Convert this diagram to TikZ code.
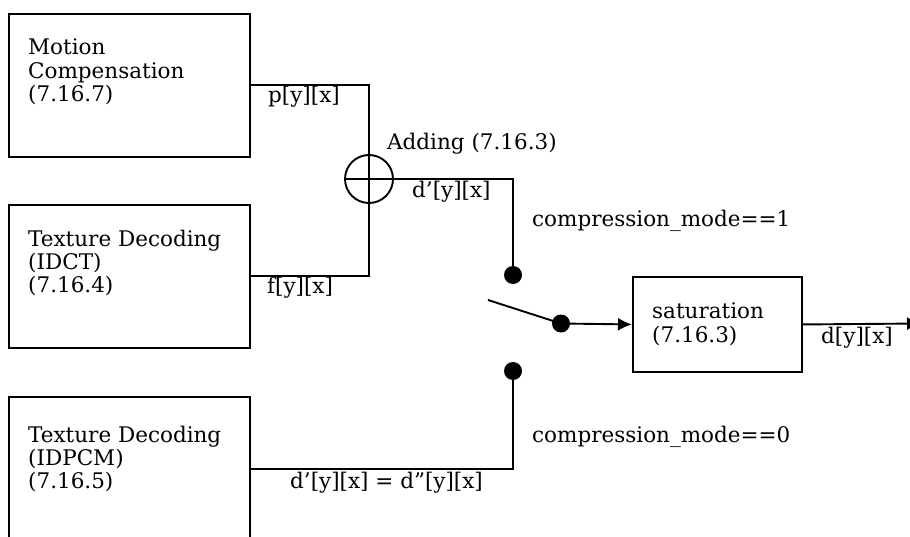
\documentclass[tikz,border=0pt]{standalone}
\usepackage{fontspec}
\setmainfont{DejaVu Serif}
\usetikzlibrary{arrows.meta}
\begin{document}
\begin{tikzpicture}[x=1pt,y=-1pt,
  wire/.style={line width=1.9pt},
  blk/.style={draw,line width=1.9pt,rectangle,inner sep=0pt,anchor=north west},
  txt/.style={inner sep=0pt,anchor=base west,font=\fontsize{21.5}{24}\selectfont},
  dotn/.style={circle,fill=black,draw=none,minimum size=18pt,inner sep=0pt}]
\useasboundingbox (0,0) rectangle (910,537);
\clip (0,0) rectangle (910,537);
% boxes
\node[blk,minimum width=241pt,minimum height=143pt] (mc) at (8,13) {};
\node[blk,minimum width=241pt,minimum height=143pt] (tx) at (8,204) {};
\node[blk,minimum width=241pt,minimum height=144pt] (tp) at (8,396) {};
\node[blk,minimum width=169pt,minimum height=95pt] (sat) at (632,276) {};
% box texts
\node[txt] (mc1) at (28,55) {Motion};
\node[txt] (mc2) at (28,79) {Compensation};
\node[txt] (mc3) at (28,102) {(7.16.7)};
\node[txt] (tx1) at (28,247) {Texture Decoding};
\node[txt] (tx2) at (28,270) {(IDCT)};
\node[txt] (tx3) at (28,293) {(7.16.4)};
\node[txt] (tp1) at (28,442) {Texture Decoding};
\node[txt] (tp2) at (28,465) {(IDPCM)};
\node[txt] (tp3) at (28,488) {(7.16.5)};
\node[txt] (sat1) at (652,318) {saturation};
\node[txt] (sat2) at (652,342) {(7.16.3)};
% adder
\node[circle,draw,line width=1.9pt,minimum size=48pt,inner sep=0pt] (add) at (369,179) {};
\draw[wire] (add.north) -- (add.south);
\draw[wire] (add.west) -- (add.east);
% dots
\node[dotn] (d1) at (513,275) {};
\node[dotn] (d2) at (561,323.5) {};
\node[dotn] (d3) at (513,371) {};
\coordinate (sw) at (488,300);
\coordinate (out) at (921,323.5);
% wires
\draw[wire] (mc.east) -| (add.north);
\draw[wire] (tx.east) -| (add.south);
\draw[wire] (add.east) -| (d1.center);
\draw[wire] (sw) -- (d2.center);
\draw[wire,-{Latex[length=14pt,width=13pt]}] (d2.center) -- (sat.west);
\draw[wire,-{Latex[length=14pt,width=13pt]}] (sat.east) -- (out);
\draw[wire] (d3.center) |- (tp.east);
% labels
\node[txt] (lp) at (268,103) {p[y][x]};
\node[txt] (lf) at (267,294) {f[y][x]};
\node[txt] (ld1) at (412,198) {d’[y][x]};
\node[txt] (ld) at (821,343) {d[y][x]};
\node[txt] (ld2) at (290,488) {d’[y][x] = d”[y][x]};
\node[txt] (ladd) at (387,150) {Adding (7.16.3)};
\node[txt] (lc1) at (532,227) {compression\_mode==1};
\node[txt] (lc0) at (532,442) {compression\_mode==0};
\end{tikzpicture}
\end{document}
